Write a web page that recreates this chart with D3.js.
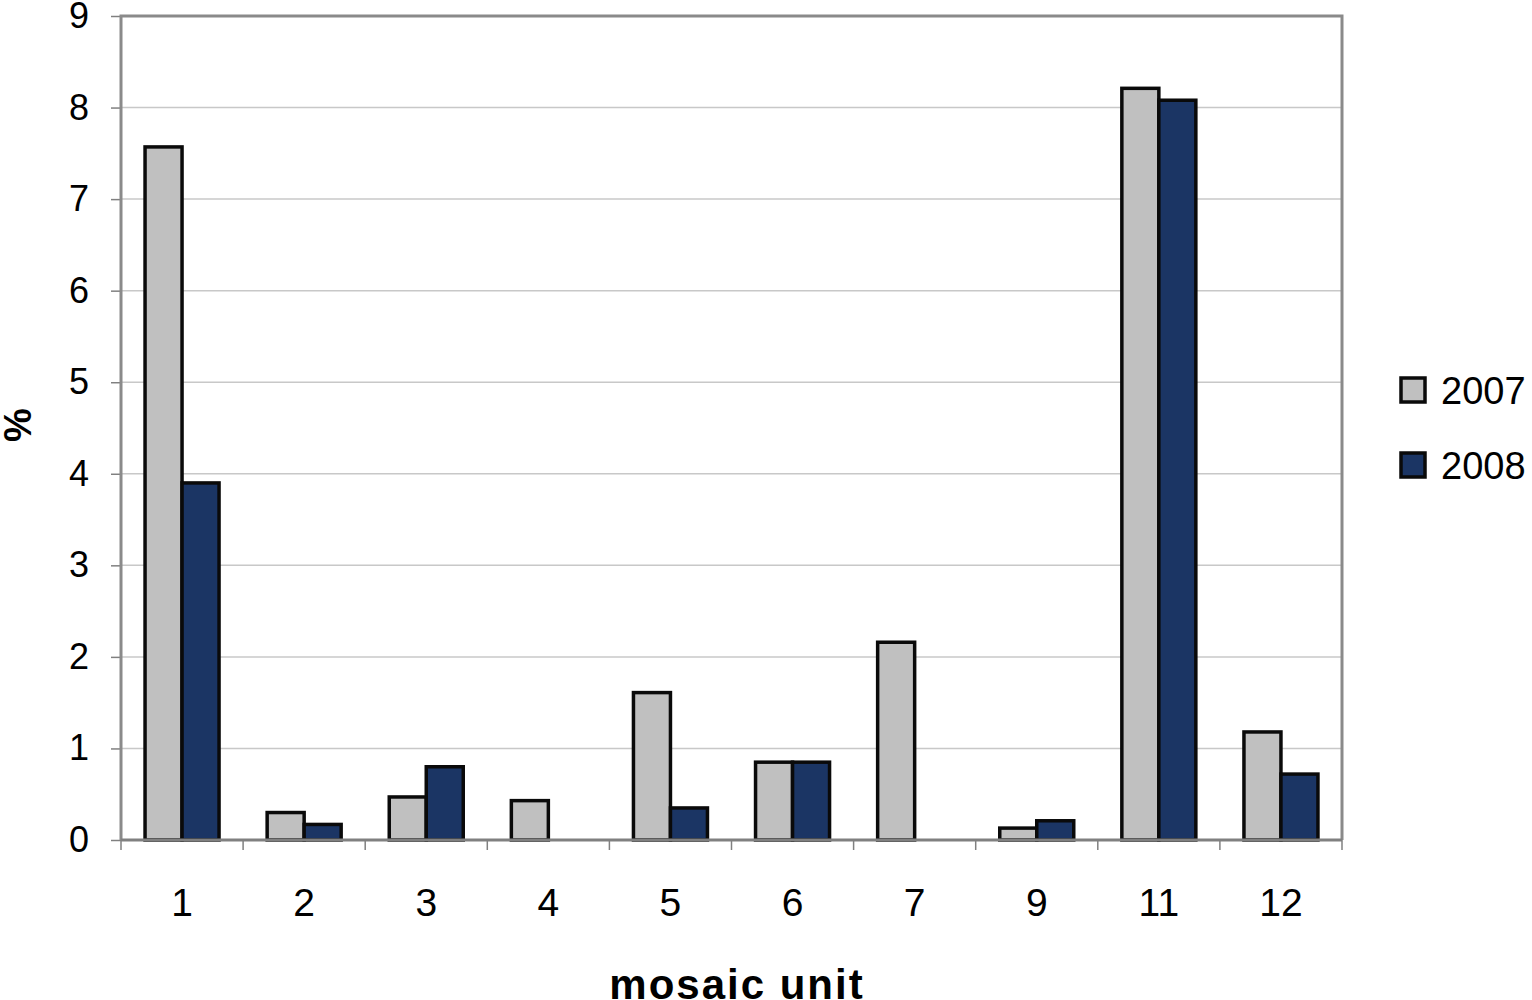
<!DOCTYPE html>
<html><head><meta charset="utf-8">
<script src="https://cdn.jsdelivr.net/npm/d3@7"></script>
<style>body{margin:0;background:#fff}svg{display:block}text{font-family:"Liberation Sans",Arial,sans-serif}</style>
</head><body><svg id="c" width="1532" height="1000"></svg>
<script>
const categories = ["1","2","3","4","5","6","7","9","11","12"];
const series = ["2007","2008"];
const values2007 = [7.57,0.30,0.47,0.43,1.61,0.85,2.16,0.13,8.21,1.18];
const values2008 = [3.90,0.17,0.80,0,0.35,0.85,0,0.21,8.08,0.72];
const yTicks = [0,1,2,3,4,5,6,7,8,9];
const colors = ["#c0c0c0","#1b3564"];

const svg = d3.select("#c");
const L=121,R=1342,T=16,B=840;
const x = d3.scaleBand().domain(categories).range([L,R]).paddingInner(0).paddingOuter(0);
const xs = d3.scaleBand().domain(series).range([0,x.bandwidth()]).paddingInner(0).paddingOuter(0.65);
const y = d3.scaleLinear().domain([0,9]).range([B,T]);

// gridlines
svg.append("g").selectAll("line").data(yTicks.slice(1)).join("line")
  .attr("x1",L).attr("x2",R).attr("y1",d=>y(d)).attr("y2",d=>y(d))
  .attr("stroke","#c8c8c8").attr("stroke-width",1.5);

// y axis
const ya = svg.append("g").attr("transform",`translate(${L},0)`)
  .call(d3.axisLeft(y).tickValues(yTicks).tickSize(10).tickPadding(22).tickFormat(d3.format("d")));
ya.select(".domain").remove();
ya.selectAll("line").attr("stroke","#808080").attr("stroke-width",1.5);
ya.selectAll("text").attr("font-size",36).attr("fill","#000");

// x axis
const xa = svg.append("g").attr("transform",`translate(0,${B})`)
  .call(d3.axisBottom(x).tickSize(0).tickPadding(48));
xa.select(".domain").remove();
xa.selectAll("text").attr("font-size",39).attr("fill","#000");
svg.append("g").selectAll("line").data(d3.range(categories.length+1)).join("line")
  .attr("x1",i=>L+i*x.step()).attr("x2",i=>L+i*x.step()).attr("y1",B).attr("y2",B+10)
  .attr("stroke","#808080").attr("stroke-width",1.5);

// bars
const data = categories.map((c,i)=>({c, v:[values2007[i],values2008[i]]}));
const g = svg.append("g").selectAll("g").data(data).join("g").attr("transform",d=>`translate(${x(d.c)},0)`);
g.selectAll("rect").data(d=>d.v.map((v,j)=>({s:series[j],v,j}))).join("rect")
  .filter(d=>d.v>0)
  .attr("x",d=>xs(d.s)).attr("width",xs.bandwidth())
  .attr("y",d=>y(d.v)).attr("height",d=>B-y(d.v))
  .attr("fill",d=>colors[d.j]).attr("stroke","#0a0a0a").attr("stroke-width",3.5);

// frame
svg.append("path").attr("d",`M${L},${B}V${T}H${R}V${B}`).attr("fill","none").attr("stroke","#8a8a8a").attr("stroke-width",3);
svg.append("line").attr("x1",L).attr("x2",R).attr("y1",B).attr("y2",B).attr("stroke","#808080").attr("stroke-width",3);

// axis titles
svg.append("text").attr("x",737).attr("y",999).attr("text-anchor","middle")
  .attr("font-size",42).attr("font-weight","bold").attr("letter-spacing",2).text("mosaic unit");
svg.append("text").attr("transform","translate(31,425) rotate(-90)").attr("text-anchor","middle")
  .attr("font-size",38).attr("font-weight","bold").text("%");

// legend
const lg = svg.append("g").selectAll("g").data(series).join("g")
  .attr("transform",(d,i)=>`translate(1401,${378+i*75})`);
lg.append("rect").attr("width",24).attr("height",24).attr("fill",(d,i)=>colors[i]).attr("stroke","#0a0a0a").attr("stroke-width",3.5);
lg.append("text").attr("x",40).attr("y",13).attr("dy","0.35em").attr("font-size",38).text(d=>d);
</script></body></html>
